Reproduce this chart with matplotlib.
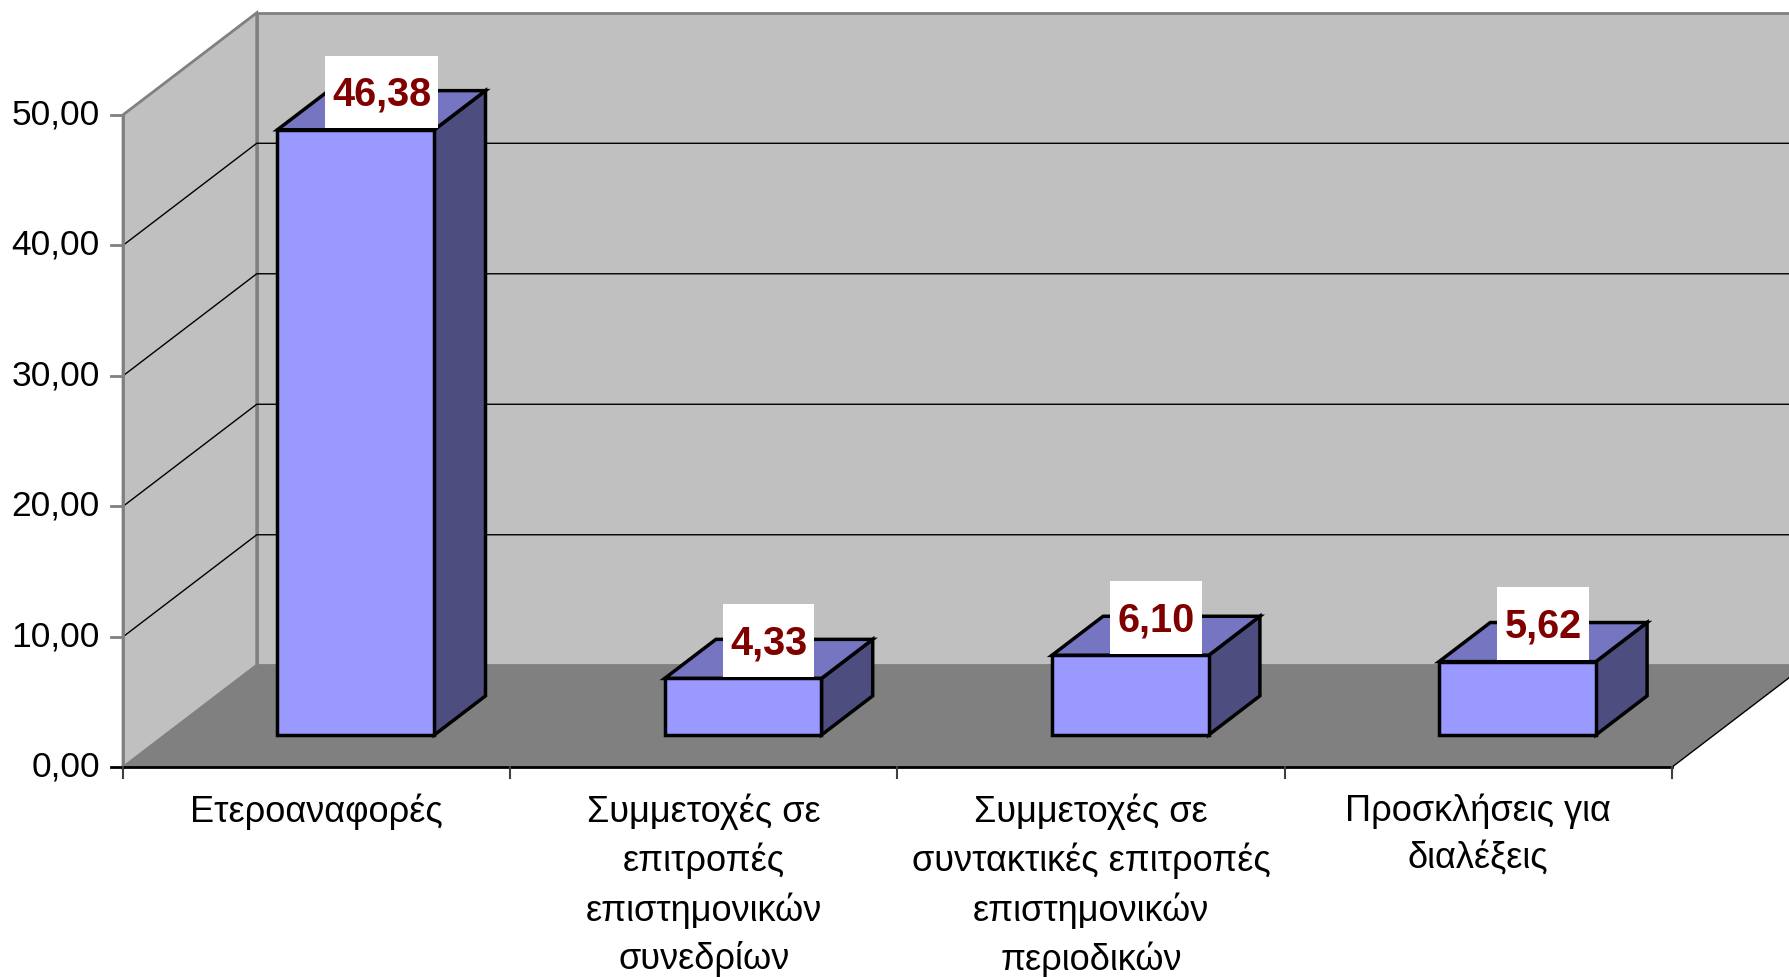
import matplotlib.pyplot as plt
from matplotlib.patches import Polygon, Rectangle

categories = ["Ετεροαναφορές",
              "Συμμετοχές σε\nεπιτροπές\nεπιστημονικών\nσυνεδρίων",
              "Συμμετοχές σε\nσυντακτικές επιτροπές\nεπιστημονικών\nπεριοδικών",
              "Προσκλήσεις για\nδιαλέξεις"]
values = [46.38, 4.33, 6.10, 5.62]
yticks = [0, 10, 20, 30, 40, 50]

plt.rcParams['font.family'] = ['Liberation Sans', 'DejaVu Sans']

# depth of the 3d box (category units, value units)
DX, DY = 0.3453, 7.82
F0, F1 = 0.317, 0.70  # front / back of the bars as fraction of depth
BW = 0.405            # bar width
SHIFT = -0.008
ncat = len(categories)
ymax = yticks[-1]

fig = plt.figure(figsize=(17.89, 9.77), dpi=100)
ax = fig.add_axes([0, 0, 1, 1])
ax.set_xlim(-0.3177, 4.3027)
ax.set_ylim(-16.07, 58.80)
ax.axis('off')

wall = '#C0C0C0'
floor = '#808080'
edge = '#808080'

# walls and floor
ax.add_patch(Polygon([(DX, DY), (ncat + DX, DY), (ncat + DX, ymax + DY), (DX, ymax + DY)],
                     closed=True, facecolor=wall, edgecolor=edge, lw=2, zorder=1))
ax.add_patch(Polygon([(0, 0), (DX, DY), (DX, ymax + DY), (0, ymax)],
                     closed=True, facecolor=wall, edgecolor=edge, lw=2, zorder=1))
ax.add_patch(Polygon([(0, 0), (ncat, 0), (ncat + DX, DY), (DX, DY)],
                     closed=True, facecolor=floor, edgecolor='none', zorder=2))
ax.plot([ncat, ncat + DX], [0, DY], color='black', lw=1, zorder=2)

# gridlines
for t in yticks[1:-1]:
    ax.plot([0, DX, ncat + DX], [t, t + DY, t + DY], color='black', lw=1, zorder=2)

# axes lines and ticks
ax.plot([0, 0], [0, ymax], color=edge, lw=2, zorder=3)
ax.plot([0, ncat], [0, 0], color='black', lw=2, zorder=3)
for t in yticks:
    ax.plot([-0.03, 0], [t, t], color=edge if t else 'black', lw=2, zorder=3)
    ax.text(-0.06, t, f"{t:.2f}".replace('.', ','), ha='right', va='center',
            fontsize=25.5, color='black')
for i in range(ncat + 1):
    ax.plot([i, i], [0, -0.85], color='#404040', lw=1.5, zorder=3)

for i, lab in enumerate(categories):
    ax.text(i + 0.5, -2.0, lab, ha='center', va='top', fontsize=26,
            linespacing=1.45, color='black')

# bars
front = '#9999FF'
top = '#7575C2'
side = '#4D4D80'
labels = []
for i, v in enumerate(values):
    x0 = i + 0.5 + SHIFT - BW / 2 + F0 * DX
    x1 = x0 + BW
    y0 = F0 * DY
    d = (F1 - F0)
    ax.add_patch(Polygon([(x1, y0), (x1 + d * DX, y0 + d * DY), (x1 + d * DX, y0 + v + d * DY), (x1, y0 + v)],
                         closed=True, facecolor=side, edgecolor='black', lw=2.5, zorder=4, joinstyle='miter'))
    ax.add_patch(Polygon([(x0, y0 + v), (x1, y0 + v), (x1 + d * DX, y0 + v + d * DY), (x0 + d * DX, y0 + v + d * DY)],
                         closed=True, facecolor=top, edgecolor='black', lw=2.5, zorder=4, joinstyle='miter'))
    ax.add_patch(Rectangle((x0, y0), BW, v, facecolor=front, edgecolor='black', lw=2.5, zorder=5))
    lx = i + 0.5 + SHIFT + 0.5 * (F0 + F1) * DX
    ly = v + F1 * DY - 1.17
    t = ax.text(lx, ly, f"{v:.2f}".replace('.', ','),
                ha='center', va='baseline', fontsize=28.5, fontweight='bold', color='#800000', zorder=8)
    labels.append(t)

# white boxes behind value labels
fig.canvas.draw()
r = fig.canvas.get_renderer()
inv = ax.transData.inverted()
for t in labels:
    bb = t.get_window_extent(r)
    _, base = ax.transData.transform(t.get_position())
    (ax0, ay0) = inv.transform((bb.x0 - 7, base - 22))
    (ax1, ay1) = inv.transform((bb.x1 + 7, base + 28.4 + 22))
    ax.add_patch(Rectangle((ax0, ay0), ax1 - ax0, ay1 - ay0, facecolor='white',
                           edgecolor='none', zorder=7))

fig.savefig('out.png', dpi=100, facecolor='white')
